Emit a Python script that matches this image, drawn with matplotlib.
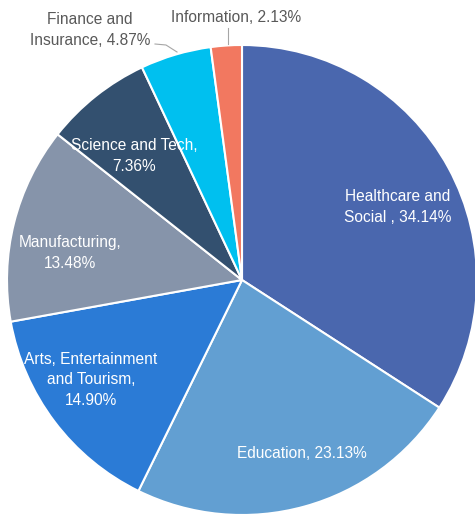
import matplotlib
matplotlib.use("Agg")
import matplotlib.pyplot as plt

categories = ["Healthcare and Social", "Education", "Arts, Entertainment and Tourism", "Manufacturing",
              "Science and Tech", "Finance and Insurance", "Information"]
values = [34.14, 23.13, 14.90, 13.48, 7.36, 4.87, 2.13]
colors = ["#4A67AE", "#629FD2", "#2B7BD6", "#8694AA", "#33506F", "#00C0EF", "#F27860"]

label_texts = ["Healthcare and\nSocial , 34.14%", "Education, 23.13%",
               "Arts, Entertainment\nand Tourism,\n14.90%", "Manufacturing,\n13.48%",
               "Science and Tech,\n7.36%", "Finance and\nInsurance, 4.87%", "Information, 2.13%"]

plt.rcParams['font.family'] = ['Liberation Sans', 'DejaVu Sans']

W, H = 475, 517
fig = plt.figure(figsize=(W / 100, H / 100), dpi=100)
ax = fig.add_axes([0, 0, 1, 1])

cx, cy, R = 242, 280, 235
# y axis is inverted below: startangle 270 (data) points up on screen,
# counterclock=True in data becomes clockwise on screen
ax.pie(values, colors=colors, startangle=270, counterclock=True, center=(cx, cy), radius=R,
       wedgeprops=dict(edgecolor='white', linewidth=1.5))
ax.set_xlim(0, W)
ax.set_ylim(H, 0)
ax.set_aspect('equal')
ax.axis('off')

inside_pos = [(398, 207), (302, 454), (91, 380), (70, 253), (134, 156)]
for (x, y), t in zip(inside_pos, label_texts[:5]):
    ax.text(x, y, t, color='white', fontsize=11.2, ha='center', va='center', linespacing=1.45)

ax.text(90, 30, label_texts[5], color='#595959', fontsize=11.2, ha='center', va='center', linespacing=1.45)
ax.text(236, 17, label_texts[6], color='#595959', fontsize=11.2, ha='center', va='center')
ax.plot([155, 166, 177], [44, 45, 52], color='#A6A6A6', lw=0.8)
ax.plot([228, 228], [28, 44], color='#A6A6A6', lw=0.8)

fig.savefig("out.png", dpi=100)
